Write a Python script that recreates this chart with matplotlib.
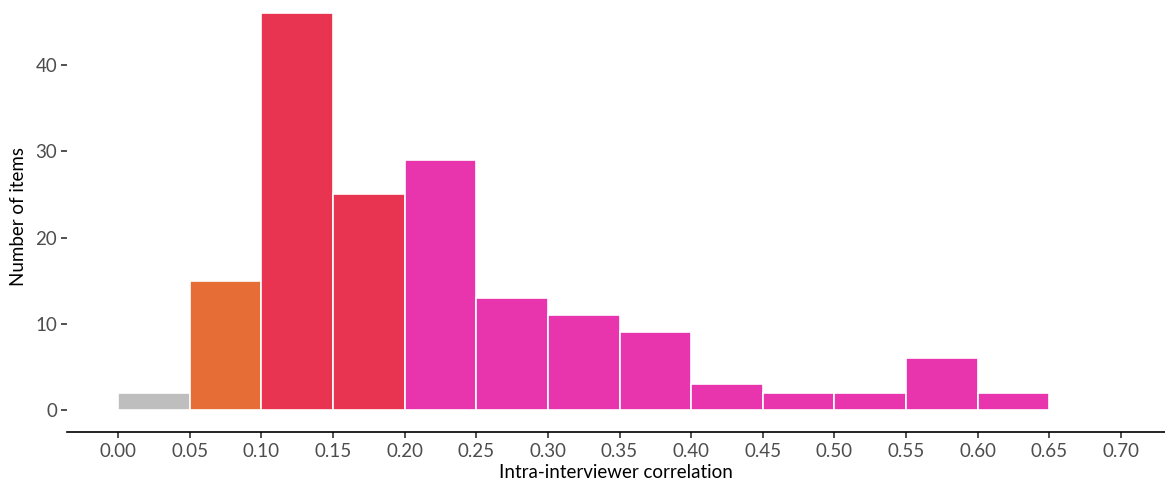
import matplotlib
from matplotlib import pyplot as plt

matplotlib.use("Agg")

# histogram of intra-interviewer correlations, bin width 0.05
bin_left = [0.00, 0.05, 0.10, 0.15, 0.20, 0.25, 0.30, 0.35, 0.40, 0.45, 0.50, 0.55, 0.60]
counts = [2, 15, 46, 25, 29, 13, 11, 9, 3, 2, 2, 6, 2]
groups = ["low", "mid", "high", "high", "top", "top", "top", "top", "top", "top", "top", "top", "top"]
group_colors = {"low": "#BEBEBE", "mid": "#E66E36", "high": "#E83450", "top": "#E834AD"}

x_ticks = [i * 0.05 for i in range(15)]
y_ticks = [0, 10, 20, 30, 40]

plt.rcParams["font.family"] = ["Lato", "DejaVu Sans"]

fig = plt.figure(figsize=(11.65, 4.83), dpi=100)
ax = fig.add_axes([67 / 1165, 51 / 483, 1 - 67 / 1165, 1 - 51 / 483])

ax.bar(
    bin_left,
    counts,
    width=0.05,
    align="edge",
    color=[group_colors[g] for g in groups],
    edgecolor="white",
    linewidth=1.2,
)

ax.set_xlim(-0.0356, 0.7307)
ax.set_ylim(-2.55, 47.54)
ax.set_xticks(x_ticks)
ax.set_xticklabels([f"{t:.2f}" for t in x_ticks])
ax.set_yticks(y_ticks)

for side in ["top", "right", "left"]:
    ax.spines[side].set_visible(False)
ax.spines["bottom"].set_color("black")
ax.spines["bottom"].set_linewidth(1.2)

ax.tick_params(axis="both", colors="#333333", labelcolor="#4d4d4d", labelsize=13.5,
               length=4, width=1.2)
ax.tick_params(axis="x", pad=4)
ax.tick_params(axis="y", pad=3)

ax.set_xlabel("Intra-interviewer correlation", fontsize=13.5, color="black", labelpad=3)
ax.set_ylabel("Number of items", fontsize=13.5, color="black", labelpad=6)

fig.savefig("out.png", dpi=100)
